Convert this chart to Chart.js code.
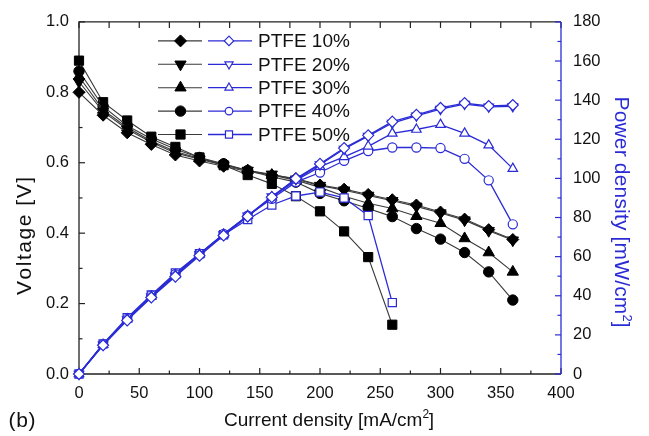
<!DOCTYPE html>
<html><head><meta charset="utf-8">
<script src="https://cdn.jsdelivr.net/npm/chart.js@4.4.1/dist/chart.umd.min.js"></script>
<style>html,body{margin:0;padding:0;background:#fff}</style>
</head><body>
<canvas id="c" width="649" height="436"></canvas>
<script>
// ---- data ----
const currents   = [0,20,40,60,80,100,120,140,160,180,200,220,240,260,280,300,320,340,360];
const currents50 = [0,20,40,60,80,100,120,140,160,180,200,220,240,260];
const seriesLabels = ['PTFE 10%','PTFE 20%','PTFE 30%','PTFE 40%','PTFE 50%'];

const voltage10 = [0.80,0.735,0.685,0.652,0.622,0.605,0.590,0.575,0.565,0.555,0.537,0.525,0.510,0.495,0.480,0.460,0.440,0.410,0.382];
const voltage20 = [0.83,0.745,0.695,0.658,0.628,0.610,0.593,0.578,0.567,0.553,0.535,0.522,0.507,0.492,0.476,0.457,0.437,0.407,0.380];
const voltage30 = [0.845,0.750,0.700,0.662,0.632,0.612,0.595,0.578,0.565,0.550,0.530,0.505,0.485,0.470,0.448,0.428,0.385,0.345,0.290];
const voltage40 = [0.86,0.760,0.705,0.668,0.638,0.615,0.597,0.578,0.560,0.545,0.513,0.492,0.470,0.447,0.413,0.383,0.345,0.290,0.210];
const voltage50 = [0.89,0.772,0.720,0.674,0.645,0.615,0.593,0.565,0.540,0.505,0.462,0.405,0.332,0.140];

const power10 = [0,14.7,27.4,39.1,49.8,60.5,70.8,80.5,90.4,99.9,107.4,115.5,122.0,129.0,132.5,136.0,138.5,137.0,137.5];
const power20 = [0,14.9,27.8,39.5,50.2,61.0,71.2,80.9,90.7,99.5,107.0,115.0,121.6,128.3,132.0,135.4,138.0,136.6,136.8];
const power30 = [0,15.0,28.0,39.7,50.6,61.2,71.4,80.9,90.4,99.0,106.0,111.0,116.4,123.0,125.0,127.5,123.0,117.0,105.0];
const power40 = [0,15.2,28.2,40.1,51.0,61.5,71.6,80.9,89.6,98.1,103.0,109.0,114.0,115.8,115.8,115.5,110.0,99.0,76.5];
const power50 = [0,15.4,28.8,40.4,51.6,61.5,71.2,79.0,86.4,91.0,93.0,90.0,81.0,36.5];

const xTicks = [0,50,100,150,200,250,300,350,400];
const vTicks = [0,0.2,0.4,0.6,0.8,1.0];
const pTicks = [0,20,40,60,80,100,120,140,160,180];

const xTitle = 'Current density [mA/cm²]';
const vTitle = 'Voltage [V]';
const pTitle = 'Power density [mW/cm²]';
const panelLabel = '(b)';

// ---- styles ----
const BLUE = '#2b2bd6';
const BLACKLINE = '#3a3a3a';
const FONT = '"Liberation Sans", Arial, Helvetica, sans-serif';
const markers = [
  {style:'rectRot', rot:0, rFill:6, rOpen:5.5},
  {style:'triangle', rot:180, rFill:6.5, rOpen:5.5},
  {style:'triangle', rot:0, rFill:6.5, rOpen:5.5},
  {style:'circle', rot:0, rFill:5.2, rOpen:4.6},
  {style:'rect', rot:0, rFill:6.5, rOpen:5.8}
];

function pts(xs, ys){ return xs.map((x,i)=>({x:x, y:ys[i]})); }

const vData = [pts(currents,voltage10),pts(currents,voltage20),pts(currents,voltage30),pts(currents,voltage40),pts(currents50,voltage50)];
const pData = [pts(currents,power10),pts(currents,power20),pts(currents,power30),pts(currents,power40),pts(currents50,power50)];

const datasets = [];
vData.forEach((d,i)=>{
  datasets.push({label:seriesLabels[i]+' V', data:d, yAxisID:'y', borderColor:BLACKLINE, borderWidth:1.1,
    pointStyle:markers[i].style, pointRotation:markers[i].rot, pointRadius:markers[i].rFill,
    pointBackgroundColor:'#000', pointBorderColor:'#000', pointBorderWidth:1, clip:false, order:2});
});
pData.forEach((d,i)=>{
  datasets.push({label:seriesLabels[i]+' P', data:d, yAxisID:'y2', borderColor:BLUE, borderWidth:1.3,
    pointStyle:markers[i].style, pointRotation:markers[i].rot, pointRadius:markers[i].rOpen,
    pointBackgroundColor:'#fff', pointBorderColor:BLUE, pointBorderWidth:1.2, clip:false, order:1});
});

// draw text centred at (cx,cy), rotated by angle, with small extra spacing to span targetLen
function drawSpaced(ctx, text, cx, cy, angle, targetLen, font, color){
  ctx.save();
  ctx.font = font; ctx.fillStyle = color;
  ctx.textBaseline = 'middle'; ctx.textAlign = 'left';
  ctx.translate(cx, cy); ctx.rotate(angle);
  const chars = Array.from(text);
  const widths = chars.map(c=>ctx.measureText(c).width);
  const natural = widths.reduce((a,b)=>a+b,0);
  const gap = chars.length>1 ? Math.max(0,(targetLen-natural)/(chars.length-1)) : 0;
  let x = -(natural + gap*(chars.length-1))/2;
  chars.forEach((c,i)=>{
    if (c === '²'){
      ctx.save(); ctx.font = font.replace(/\d+(\.\d+)?px/, m=>Math.round(parseFloat(m)*0.62)+'px');
      ctx.fillText('2', x, -6); ctx.restore();
    } else ctx.fillText(c, x, 0);
    x += widths[i] + gap;
  });
  ctx.restore();
}

const framePlugin = {
  id:'frame',
  beforeDatasetsDraw(chart){
    const {ctx, chartArea:a, scales} = chart;
    ctx.save();
    ctx.lineWidth = 1.3;
    ctx.strokeStyle = '#222';
    ctx.beginPath();
    ctx.moveTo(a.right, a.top); ctx.lineTo(a.left, a.top); ctx.lineTo(a.left, a.bottom); ctx.lineTo(a.right, a.bottom);
    ctx.stroke();
    ctx.lineWidth = 1.2;
    const xs = scales.x;
    for (let v=0; v<=400; v+=25){
      const px = xs.getPixelForValue(v);
      const major = v % 50 === 0;
      ctx.beginPath(); ctx.moveTo(px, a.bottom); ctx.lineTo(px, a.bottom-(major?6:3.5)); ctx.stroke();
      ctx.beginPath(); ctx.moveTo(px, a.top); ctx.lineTo(px, a.top+6); ctx.stroke();
    }
    const ys = scales.y;
    for (let k=0; k<=10; k++){
      const py = ys.getPixelForValue(k/10);
      const major = k%2===0;
      ctx.beginPath(); ctx.moveTo(a.left, py); ctx.lineTo(a.left+(major?6:3.5), py); ctx.stroke();
    }
    ctx.strokeStyle = BLUE;
    ctx.lineWidth = 1.3;
    ctx.beginPath(); ctx.moveTo(a.right, a.top); ctx.lineTo(a.right, a.bottom); ctx.stroke();
    const y2 = scales.y2;
    ctx.lineWidth = 1.2;
    for (let v=0; v<=180; v+=10){
      const py = y2.getPixelForValue(v);
      const major = v%20===0;
      ctx.beginPath(); ctx.moveTo(a.right, py); ctx.lineTo(a.right-(major?6:3.5), py); ctx.stroke();
    }
    ctx.restore();
  },
  afterDraw(chart){
    const {ctx, chartArea:a} = chart;
    ctx.save();
    const x0 = a.left;
    for (let i=0;i<5;i++){
      const y = a.top + 19 + i*23.4;
      ctx.lineWidth = 1.1; ctx.strokeStyle = BLACKLINE;
      ctx.beginPath(); ctx.moveTo(x0+79, y); ctx.lineTo(x0+123, y); ctx.stroke();
      ctx.fillStyle = '#000'; ctx.strokeStyle = '#000'; ctx.lineWidth = 1;
      Chart.helpers.drawPoint(ctx, {pointStyle:markers[i].style, rotation:markers[i].rot, radius:markers[i].rFill, borderWidth:1}, x0+101.5, y);
      ctx.lineWidth = 1.3; ctx.strokeStyle = BLUE;
      ctx.beginPath(); ctx.moveTo(x0+129, y); ctx.lineTo(x0+173, y); ctx.stroke();
      ctx.fillStyle = '#fff'; ctx.strokeStyle = BLUE; ctx.lineWidth = 1.2;
      Chart.helpers.drawPoint(ctx, {pointStyle:markers[i].style, rotation:markers[i].rot, radius:markers[i].rOpen-0.8, borderWidth:1.2}, x0+150, y);
      ctx.fillStyle = '#111';
      ctx.font = '19px ' + FONT;
      ctx.textBaseline = 'middle'; ctx.textAlign = 'left';
      ctx.fillText(seriesLabels[i], x0+179, y+1);
    }
    ctx.restore();
    drawSpaced(ctx, xTitle, 329, 421, 0, 206, '19px ' + FONT, '#111');
    drawSpaced(ctx, vTitle, 25, 236, -Math.PI/2, 118, '21px ' + FONT, '#111');
    drawSpaced(ctx, pTitle, 621, 212, Math.PI/2, 231, '21px ' + FONT, BLUE);
    drawSpaced(ctx, panelLabel, 22, 421, 0, 27, '21px ' + FONT, '#111');
  }
};

new Chart(document.getElementById('c'), {
  type:'line',
  data:{datasets},
  options:{
    responsive:false, animation:false, devicePixelRatio:1,
    layout:{padding:{top:19,left:0,right:0,bottom:0}},
    plugins:{legend:{display:false}, tooltip:{enabled:false}},
    scales:{
      x:{type:'linear', min:0, max:400, afterBuildTicks(s){ s.ticks = xTicks.map(v=>({value:v})); },
        afterFit(s){ s.height = 62; },
        grid:{display:false, drawTicks:false}, border:{display:false},
        ticks:{autoSkip:false, maxRotation:0, padding:10, color:'#111', font:{family:FONT, size:16.5}}},
      y:{type:'linear', position:'left', min:0, max:1, afterBuildTicks(s){ s.ticks = vTicks.map(v=>({value:v})); },
        afterFit(s){ s.width = 79; },
        grid:{display:false, drawTicks:false}, border:{display:false},
        ticks:{autoSkip:false, padding:10, color:'#111', font:{family:FONT, size:16.5}, callback:v=>Number(v).toFixed(1)}},
      y2:{type:'linear', position:'right', min:0, max:180, afterBuildTicks(s){ s.ticks = pTicks.map(v=>({value:v})); },
        afterFit(s){ s.width = 88; },
        grid:{display:false, drawTicks:false}, border:{display:false},
        ticks:{autoSkip:false, padding:12, color:'#111', font:{family:FONT, size:16.5}}}
    }
  },
  plugins:[framePlugin]
});
</script>
</body></html>
